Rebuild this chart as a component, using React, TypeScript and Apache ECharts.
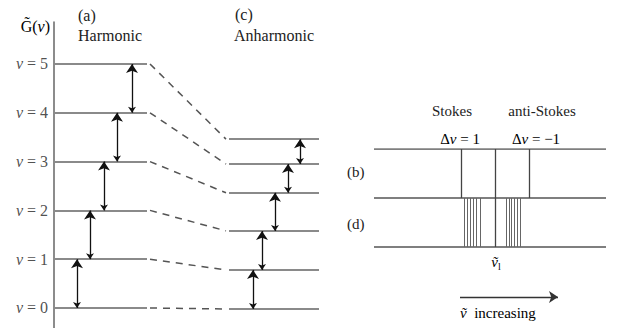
import React, { useEffect, useRef } from "react";
import * as echarts from "echarts";

// ---- data (energy in units of the harmonic quantum, G = v + 1/2) ----
const quantumNumbers = [0, 1, 2, 3, 4, 5];
const harmonicLevels = [0.5, 1.5, 2.5, 3.5, 4.5, 5.5];
const anharmonicLevels = [0.48, 1.28, 2.08, 2.86, 3.45, 3.96];

// ---- spectrum (relative wavenumber, Rayleigh line at 0) ----
const rayleighLine = [0];
const stokesLinesB = [-34];
const antiStokesLinesB = [34];
const stokesLinesD = [-30.3, -27.7, -25, -21.7, -19, -14.7];
const antiStokesLinesD = [11.7, 14.3, 16.7, 19.3, 22, 25.7];

// ---- layout (diagram x positions) ----
const harmX: [number, number] = [0, 93];
const anhX: [number, number] = [175, 265];
const dashX: [number, number] = [96, 172];
const harmArrowX = [23, 36, 50, 63, 78];
const anhArrowX = [199, 208, 221, 234, 246];
const specX: [number, number] = [-121, 111];
const arrowSpanX: [number, number] = [-35, 63];

const SERIF = "Liberation Serif";
const TXT = "#222";

const txt = (x: number, y: number, text: string, size = 16, align = "left") => ({
  type: "text",
  x,
  y,
  style: {
    text,
    fontFamily: SERIF,
    fontSize: size,
    fill: TXT,
    textAlign: align,
    textVerticalAlign: "middle",
  },
});

export default function App() {
  const ref = useRef<HTMLDivElement>(null);
  useEffect(() => {
    if (!ref.current) return;
    const chart = echarts.init(ref.current, null, { renderer: "svg" });

    const levelSeries = (levels: number[], xr: [number, number]) => ({
      type: "lines",
      coordinateSystem: "cartesian2d",
      xAxisIndex: 0,
      yAxisIndex: 0,
      silent: true,
      lineStyle: { color: "#8a8a8a", width: 2, opacity: 1 },
      data: levels.map((g) => ({ coords: [[xr[0], g], [xr[1], g]] })),
    });

    const arrowSeries = (levels: number[], xs: number[]) => ({
      type: "lines",
      coordinateSystem: "cartesian2d",
      xAxisIndex: 0,
      yAxisIndex: 0,
      silent: true,
      symbol: ["arrow", "arrow"],
      symbolSize: [6, 9],
      lineStyle: { color: "#111", width: 1.3, opacity: 1 },
      data: xs.map((x, i) => ({ coords: [[x, levels[i]], [x, levels[i + 1]]] })),
    });

    const vLines = (xs: number[], y0: number, y1: number, color: string, width: number) => ({
      type: "lines",
      coordinateSystem: "cartesian2d",
      xAxisIndex: 1,
      yAxisIndex: 1,
      silent: true,
      lineStyle: { color, width, opacity: 1 },
      data: xs.map((x) => ({ coords: [[x, y0], [x, y1]] })),
    });

    const richI = (size: number) => ({ fontFamily: SERIF, fontSize: size, fontStyle: "italic", color: TXT });
    const richN = (size: number) => ({ fontFamily: SERIF, fontSize: size, color: TXT });

    const option: any = {
      animation: false,
      backgroundColor: "#fff",
      textStyle: { fontFamily: SERIF },
      grid: [
        { left: 54, top: 22, width: 271, height: 312, containLabel: false },
        { left: 374, top: 149, width: 232, height: 156.8, containLabel: false },
      ],
      xAxis: [
        {
          type: "value", gridIndex: 0, min: 0, max: 271, position: "bottom",
          axisLine: { show: true, onZero: false, lineStyle: { color: "#888", width: 1.5 } },
          axisTick: { show: false }, axisLabel: { show: false }, splitLine: { show: false },
        },
        { type: "value", gridIndex: 1, min: specX[0], max: specX[1], show: false },
      ],
      yAxis: [
        {
          type: "value", gridIndex: 0, min: -0.033, max: 6.36,
          axisLine: { show: true, onZero: false, lineStyle: { color: "#666", width: 1.5 } },
          axisTick: { show: false }, axisLabel: { show: false }, splitLine: { show: false },
        },
        { type: "value", gridIndex: 1, min: -1.2, max: 2, show: false },
      ],
      series: [
        levelSeries(harmonicLevels, harmX),
        levelSeries(anharmonicLevels, anhX),
        {
          type: "lines",
          coordinateSystem: "cartesian2d",
          xAxisIndex: 0,
          yAxisIndex: 0,
          silent: true,
          lineStyle: { color: "#555", width: 1.5, type: [7, 6], opacity: 1 },
          data: harmonicLevels.map((g, i) => ({
            coords: [[dashX[0], g], [dashX[1], anharmonicLevels[i]]],
          })),
        },
        arrowSeries(harmonicLevels, harmArrowX),
        arrowSeries(anharmonicLevels, anhArrowX),
        {
          type: "scatter",
          xAxisIndex: 0,
          yAxisIndex: 0,
          silent: true,
          symbolSize: 0,
          data: harmonicLevels.map((g) => [0, g]),
          label: {
            show: true,
            position: "left",
            distance: 6,
            formatter: (p: any) => `{i|v}{n| = ${quantumNumbers[p.dataIndex]}}`,
            rich: { i: richI(16), n: richN(16) },
          },
        },
        // spectrum rows
        {
          type: "lines",
          coordinateSystem: "cartesian2d",
          xAxisIndex: 1,
          yAxisIndex: 1,
          silent: true,
          lineStyle: { color: "#555", width: 1.5, opacity: 1 },
          data: [0, 1, 2].map((y) => ({ coords: [[specX[0], y], [specX[1], y]] })),
        },
        vLines(rayleighLine, 0, 2, "#444", 1.3),
        vLines([...stokesLinesB, ...antiStokesLinesB], 1, 2, "#444", 1.3),
        vLines([...stokesLinesD, ...antiStokesLinesD], 0, 1, "#666", 1),
        {
          type: "lines",
          coordinateSystem: "cartesian2d",
          xAxisIndex: 1,
          yAxisIndex: 1,
          silent: true,
          symbol: ["none", "arrow"],
          symbolSize: [6, 9],
          lineStyle: { color: "#333", width: 1.3, opacity: 1 },
          data: [{ coords: [[arrowSpanX[0], -1.02], [arrowSpanX[1], -1.02]] }],
        },
      ],
      graphic: [
        {
          type: "text", x: 50, y: 26,
          style: {
            text: "{n|G\u0303(}{i|v}{n|)}", textAlign: "right", textVerticalAlign: "middle",
            rich: { n: richN(16), i: richI(16) },
          },
        },
        txt(78, 15, "(a)"),
        txt(78, 35, "Harmonic"),
        txt(235, 14, "(c)"),
        txt(234, 35, "Anharmonic"),
        txt(452, 111, "Stokes", 15, "center"),
        txt(542, 111, "anti-Stokes", 15, "center"),
        {
          type: "text", x: 460, y: 139,
          style: {
            text: "{n|\u0394}{i|v}{n| = 1}", textAlign: "center", textVerticalAlign: "middle",
            rich: { n: richN(15), i: richI(15) },
          },
        },
        {
          type: "text", x: 536, y: 139,
          style: {
            text: "{n|\u0394}{i|v}{n| = \u22121}", textAlign: "center", textVerticalAlign: "middle",
            rich: { n: richN(15), i: richI(15) },
          },
        },
        txt(347, 172, "(b)", 15),
        txt(347, 224, "(d)", 15),
        {
          type: "text", x: 496, y: 262,
          style: {
            text: "{i|v\u0303}{s|l}", textAlign: "center", textVerticalAlign: "middle",
            rich: {
              i: richI(15),
              s: { fontFamily: SERIF, fontSize: 10, color: TXT, padding: [8, 0, 0, 0] },
            },
          },
        },
        {
          type: "text", x: 460, y: 313,
          style: {
            text: "{i|v\u0303}{n|  increasing}", textVerticalAlign: "middle",
            rich: { i: richI(15), n: richN(15) },
          },
        },
      ],
    };

    chart.setOption(option);
    return () => chart.dispose();
  }, []);

  return <div ref={ref} style={{ width: 621, height: 336, margin: -8 }} />;
}
